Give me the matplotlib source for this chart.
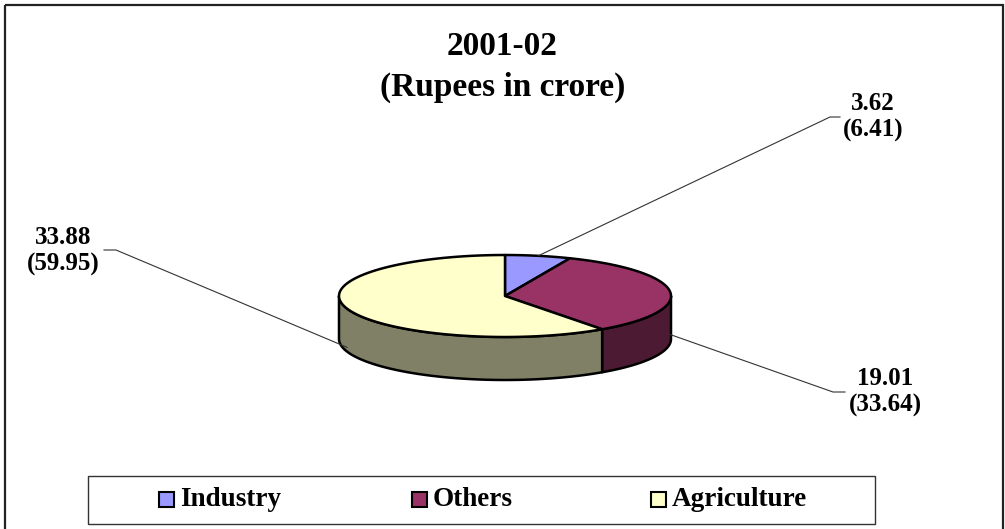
import numpy as np
import matplotlib
matplotlib.use('Agg')
import matplotlib.pyplot as plt
from matplotlib.patches import Polygon, Rectangle

plt.rcParams['font.family'] = ['Liberation Serif', 'DejaVu Serif']

# data
categories = ['Industry', 'Others', 'Agriculture']
values = [3.62, 19.01, 33.88]
percents = [6.41, 33.64, 59.95]
top_colors = ['#9999FF', '#993366', '#FFFFCC']
side_colors = ['#4D4D80', '#4D1A33', '#808066']

# layout (pixel coords, y down)
W, H = 1005, 529
cx, cy = 505, 296
a, b = 166, 41
depth = 43
label_pos = [(873, 117), (885, 392), (63, 251)]
leader_start = [(830, 117, 840), (833, 392, 845), (116, 250, 104)]
leader_drop = [0.0, 1.0, 0.9]

fig = plt.figure(figsize=(W / 100, H / 100), dpi=100)
ax = fig.add_axes([0, 0, 1, 1])
ax.set_xlim(0, W)
ax.set_ylim(H, 0)
ax.axis('off')


def rim(theta, dy=0.0):
    t = np.radians(theta)
    return cx + a * np.sin(t), cy - b * np.cos(t) + dy


total = sum(percents)
bounds = np.concatenate([[0], np.cumsum(percents) / total * 360])

# sides (front half only, 90..270 deg clockwise from top)
for i in range(len(values)):
    t1, t2 = max(bounds[i], 90), min(bounds[i + 1], 270)
    if t2 <= t1:
        continue
    th = np.linspace(t1, t2, 80)
    xs, ys = rim(th)
    pts = list(zip(xs, ys)) + list(zip(xs[::-1], ys[::-1] + depth))
    ax.add_patch(Polygon(pts, closed=True, facecolor=side_colors[i],
                         edgecolor='black', lw=1.8, joinstyle='round'))

# top faces
for i in range(len(values)):
    th = np.linspace(bounds[i], bounds[i + 1], 120)
    xs, ys = rim(th)
    pts = [(cx, cy)] + list(zip(xs, ys))
    ax.add_patch(Polygon(pts, closed=True, facecolor=top_colors[i],
                         edgecolor='black', lw=1.8, joinstyle='round'))

# data labels with leader lines
for i in range(len(values)):
    mid = (bounds[i] + bounds[i + 1]) / 2
    px, py = rim(mid, leader_drop[i] * depth)
    sx, sy, hx = leader_start[i]
    ax.plot([hx, sx, px], [sy, sy, py], color='#333333', lw=0.8)
    lx, ly = label_pos[i]
    ax.text(lx, ly, f"{values[i]:.2f}\n({percents[i]:.2f})", ha='center',
            va='center', fontsize=18, fontweight='bold', linespacing=1.22)

# title
ax.text(W / 2, 67, "2001-02\n(Rupees in crore)", ha='center', va='center',
        fontsize=24, fontweight='bold', linespacing=1.42)

# outer frame
ax.add_patch(Rectangle((5, 5), 998, 540, fill=False, edgecolor='#222222',
                       lw=1.6, clip_on=False))

# legend
ax.add_patch(Rectangle((88, 476), 787, 48, fill=False, edgecolor='#333333', lw=1.0))
leg_x = [159, 412, 651]
for i, name in enumerate(categories):
    ax.add_patch(Rectangle((leg_x[i], 492), 15, 15, facecolor=top_colors[i],
                           edgecolor='black', lw=1.5))
    ax.text(leg_x[i] + 21, 500, name, ha='left', va='center',
            fontsize=19.5, fontweight='bold')

fig.savefig('out.png', dpi=100)
